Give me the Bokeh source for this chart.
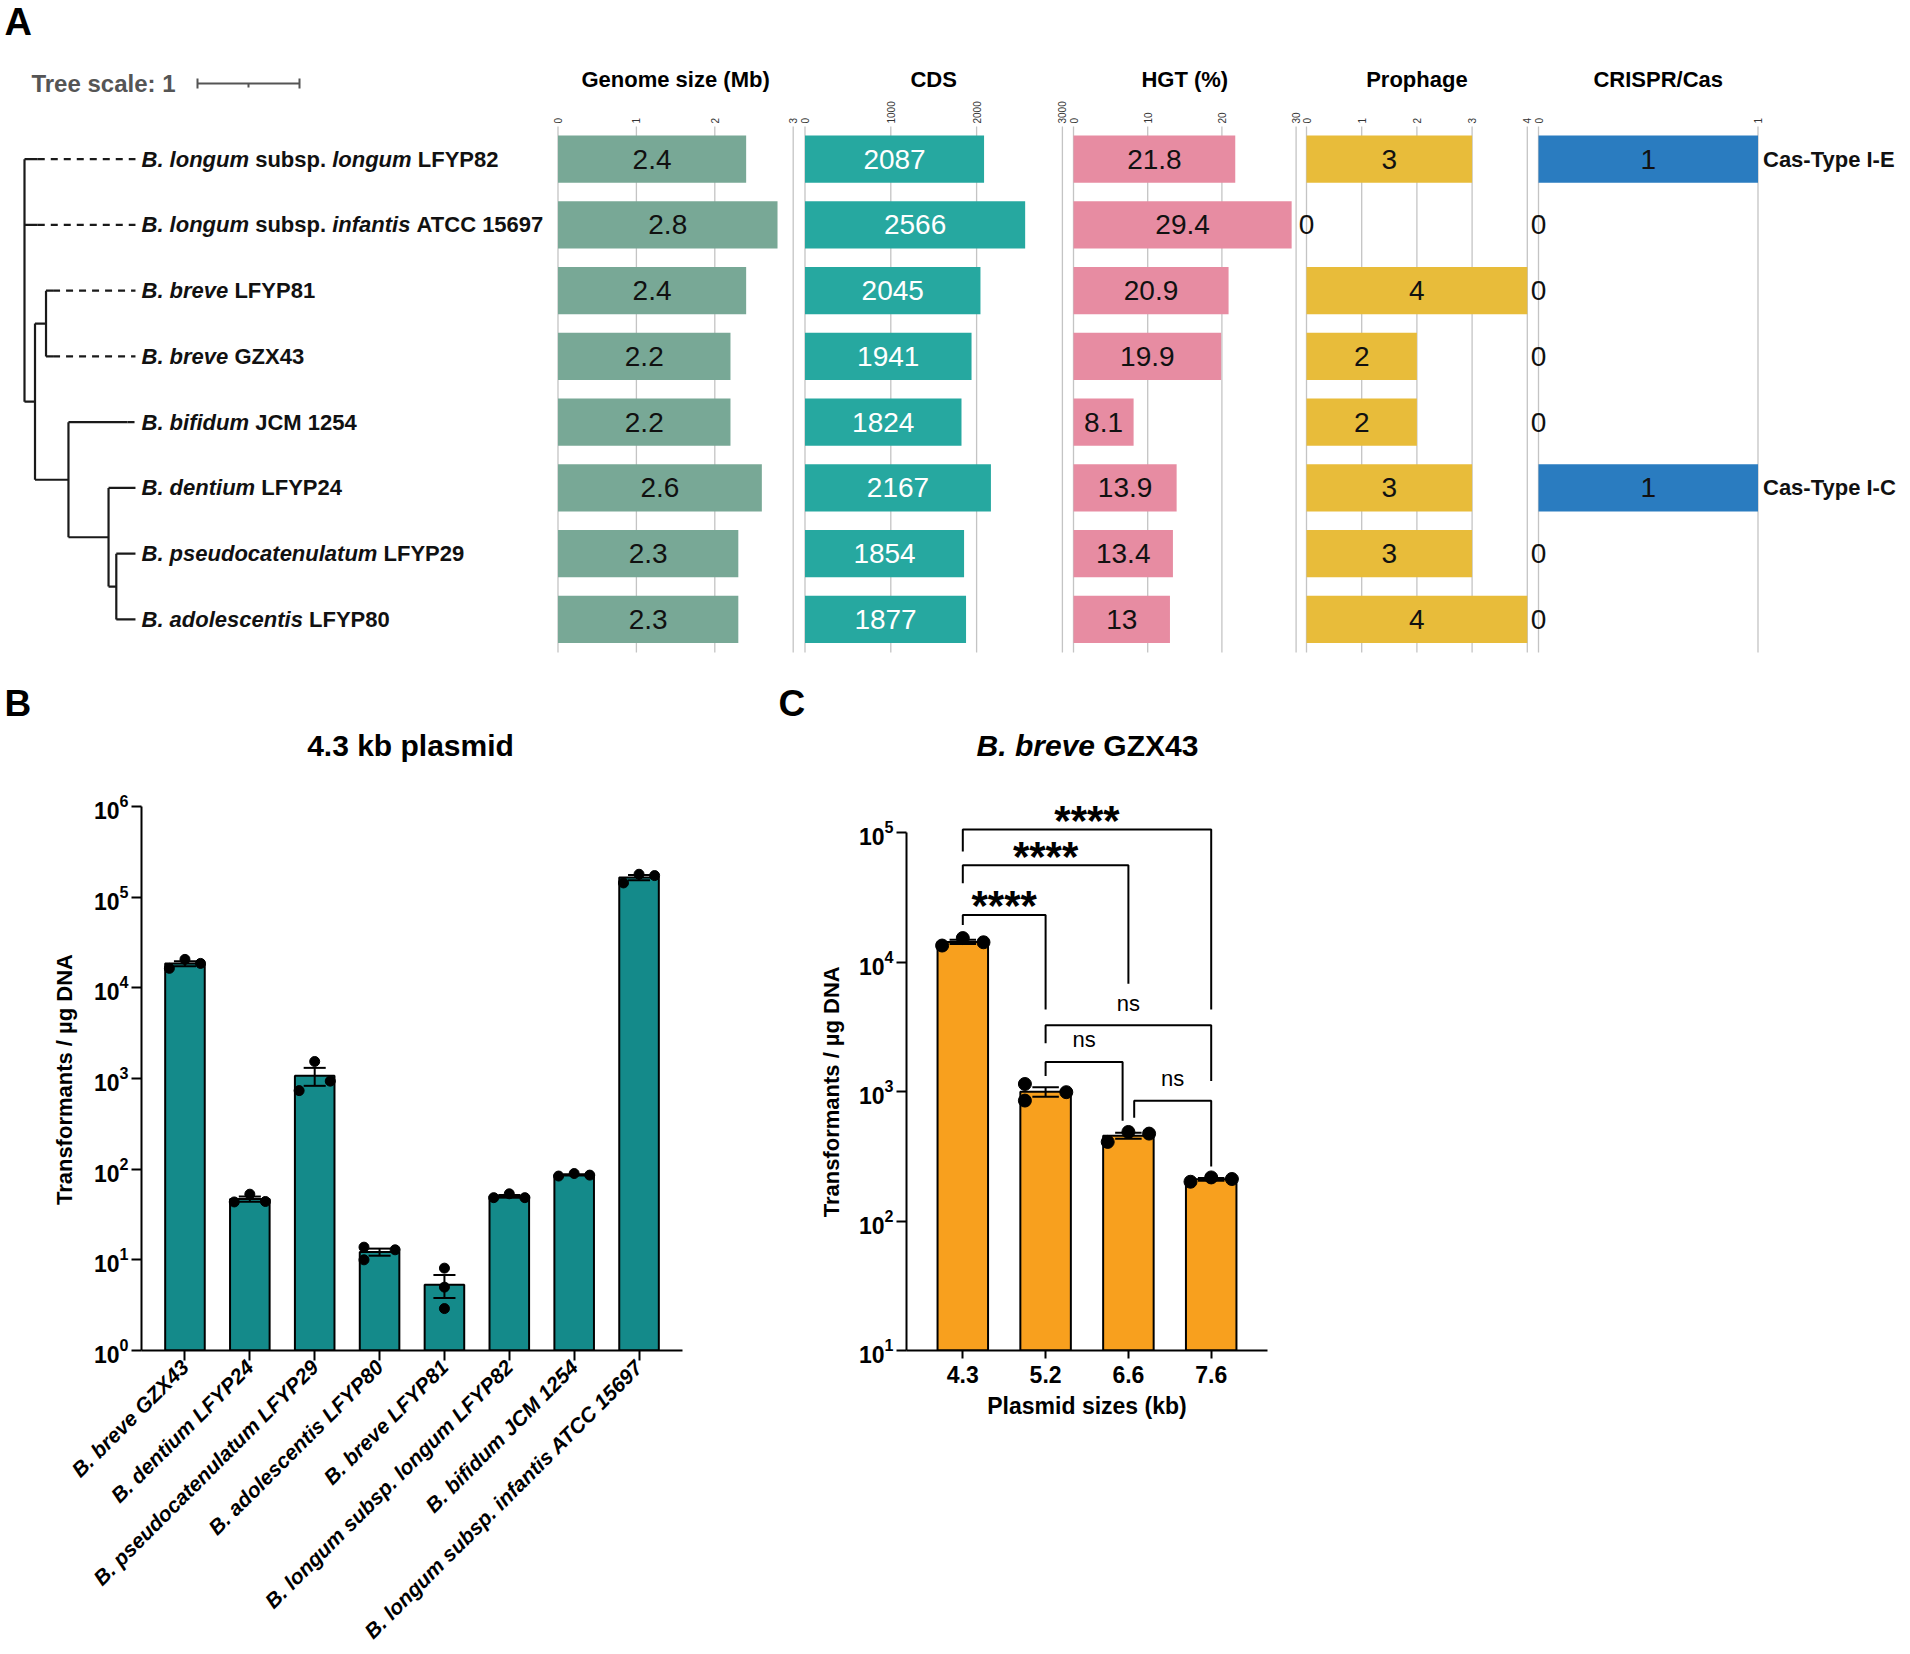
import math
from bokeh.plotting import figure
from bokeh.models import Range1d, FactorRange, FixedTicker, ColumnDataSource
from bokeh.layouts import row, column
from bokeh.embed import file_html
from bokeh.resources import INLINE
from bokeh.core.properties import value

FONT = "Liberation Sans"

# ============================ DATA ============================
# ---- Panel A : genome features ----
species = ["B. longum", "B. longum", "B. breve", "B. breve", "B. bifidum",
           "B. dentium", "B. pseudocatenulatum", "B. adolescentis"]
subspecies = ["longum", "infantis", "", "", "", "", "", ""]
strain_ids = ["LFYP82", "ATCC 15697", "LFYP81", "GZX43", "JCM 1254", "LFYP24", "LFYP29", "LFYP80"]

genome_size_mb = [2.4, 2.8, 2.4, 2.2, 2.2, 2.6, 2.3, 2.3]
cds_count = [2087, 2566, 2045, 1941, 1824, 2167, 1854, 1877]
hgt_percent = [21.8, 29.4, 20.9, 19.9, 8.1, 13.9, 13.4, 13.0]
prophage_count = [3, 0, 4, 2, 2, 3, 3, 4]
crispr_count = [1, 0, 0, 0, 0, 1, 0, 0]
cas_type = ["Cas-Type I-E", "", "", "", "", "Cas-Type I-C", "", ""]

genome_ticks = [0, 1, 2, 3]
cds_ticks = [0, 1000, 2000, 3000]
hgt_ticks = [0, 10, 20, 30]
prophage_ticks = [0, 1, 2, 3, 4]
crispr_ticks = [0, 1]

# phylogenetic tree: node, parent, depth of node (tree-scale units)
tree_nodes = ["root", "nB", "nC", "nD", "nE", "nF",
              "L0", "L1", "L2", "L3", "L4", "L5", "L6", "L7"]
tree_parents = [None, "root", "nB", "nB", "nD", "nE",
                "root", "root", "nC", "nC", "nD", "nE", "nF", "nF"]
tree_depth = [0.0, 0.103, 0.211, 0.431, 0.824, 0.900,
              0.13, 0.13, 0.28, 0.28, 1.01, 1.088, 1.088, 1.088]
tree_leaf_row = {"L0": 0, "L1": 1, "L2": 2, "L3": 3, "L4": 4, "L5": 5, "L6": 6, "L7": 7}
tree_scale_length = 1

# ---- Panel B : 4.3 kb plasmid ----
b_title = "4.3 kb plasmid"
b_strains = ["B. breve GZX43", "B. dentium LFYP24", "B. pseudocatenulatum LFYP29",
             "B. adolescentis LFYP80", "B. breve LFYP81", "B. longum subsp. longum LFYP82",
             "B. bifidum JCM 1254", "B. longum subsp. infantis ATCC 15697"]
b_mean = [18500, 46.8, 1070, 12.2, 5.3, 50.2, 86.5, 165000]
b_sem = [1200, 3.1, 240, 1.1, 1.5, 1.7, 1.6, 11000]
b_replicates = [[16400, 20600, 18600], [43.5, 53.0, 44.0], [735, 1540, 935],
                [13.8, 10.0, 12.9], [8.1, 5.0, 2.9], [48.5, 53.5, 48.5],
                [84.0, 89.5, 86.0], [143500, 179000, 173000]]
b_jitter = [[-0.24, 0, 0.24], [-0.24, 0, 0.24], [-0.24, 0, 0.24], [-0.24, -0.24, 0.24],
            [0, 0, 0], [-0.24, 0, 0.24], [-0.24, 0, 0.24], [-0.24, 0, 0.24]]

# ---- Panel C : B. breve GZX43 ----
c_title_species, c_title_strain = "B. breve", "GZX43"
c_plasmid_kb = ["4.3", "5.2", "6.6", "7.6"]
c_mean = [14300, 994, 456, 210]
c_sem = [551, 84, 24, 5]
c_replicates = [[13400, 15300, 14200], [1143, 851, 988], [408, 487, 473], [201, 217, 211]]
c_jitter = [[-0.25, 0, 0.25], [-0.25, -0.25, 0.25], [-0.25, 0, 0.25], [-0.25, 0, 0.25]]

c_comp_a = ["4.3", "4.3", "4.3", "5.2", "5.2", "6.6"]
c_comp_b = ["5.2", "6.6", "7.6", "7.6", "6.6", "7.6"]
c_comp_label = ["****", "****", "****", "ns", "ns", "ns"]
c_comp_top = [23100, 55800, 105400, 3250, 1690, 847]
c_comp_a_end = [19300, 40600, 71400, 2360, 1318, 627]
c_comp_b_end = [4300, 6800, 4300, 1205, 594, 264]
c_comp_a_shift = [0, 0, 0, 0, 0, 0.07]
c_comp_b_shift = [0, 0, 0, 0, -0.07, 0]

Y_LABEL = "Transformants / µg DNA"

# ============================ HELPERS ============================
_W = {" ": 278, "\u00a0": 278, ".": 278, "-": 333, "/": 278, "(": 333, ")": 333, "%": 889,
      ":": 333}
for _d in "0123456789":
    _W[_d] = 556
_W.update(dict(A=722, B=722, C=722, D=722, E=667, F=611, G=778, H=722, I=278, J=556, K=722,
               L=611, M=833, N=722, O=778, P=667, Q=778, R=722, S=667, T=611, U=722, V=667,
               W=944, X=667, Y=667, Z=611))
_W.update(dict(a=556, b=611, c=556, d=611, e=556, f=333, g=611, h=611, i=278, j=278, k=556,
               l=278, m=889, n=611, o=611, p=611, q=611, r=389, s=556, t=333, u=611, v=556,
               w=778, x=556, y=556, z=500))


def text_w(t, size):
    return sum(_W.get(ch, 556) for ch in t) * size / 1000.0


def txt(p, x, y, t, size, style="bold", color="black", align="left", baseline="middle",
        angle=0, x_offset=0, **kw):
    p.text(x=x, y=y, text=t, x_offset=x_offset, angle=angle, text_font=value(FONT),
           text_font_size=f"{size}px", text_font_style=style, text_color=color,
           text_align=align, text_baseline=baseline, **kw)


# ============================ PANEL A (one canvas, also holds B/C headings) ===========
PAGE_W, PAGE_H = 1910, 1654
A_H = 780
ROW0_PX, ROW_PX = 158.7, 65.75
TREE_ROOT_PX, TREE_UNIT_PX = 24.0, 102.0


def row_of(px):
    return (px - ROW0_PX) / ROW_PX


def tree_x(px):
    return (px - TREE_ROOT_PX) / TREE_UNIT_PX


pa = figure(width=PAGE_W, height=A_H,
            x_range=Range1d(tree_x(0), tree_x(PAGE_W)),
            y_range=Range1d(row_of(A_H), row_of(0)),
            x_axis_location=None, y_axis_location=None, min_border=0,
            toolbar_location=None, output_backend="svg")
pa.outline_line_color = None
pa.xgrid.visible = False
pa.ygrid.visible = False

# ---- tree ----
depth = dict(zip(tree_nodes, tree_depth))
parent = dict(zip(tree_nodes, tree_parents))
children = {n: [c for c in tree_nodes if parent[c] == n] for n in tree_nodes}


def node_y(n):
    if n in tree_leaf_row:
        return tree_leaf_row[n]
    ys = [node_y(c) for c in children[n]]
    return (min(ys) + max(ys)) / 2.0


ypos = {n: node_y(n) for n in tree_nodes}
align_depth = max(depth[n] for n in tree_leaf_row)
solid = dict(x0=[], y0=[], x1=[], y1=[])
dashed = dict(x0=[], y0=[], x1=[], y1=[])


def _add(d, a, b, c, e):
    d["x0"].append(a); d["y0"].append(b); d["x1"].append(c); d["y1"].append(e)


for n in tree_nodes:
    if children[n]:
        ys = [ypos[c] for c in children[n]]
        _add(solid, depth[n], min(ys), depth[n], max(ys))
    if parent[n] is not None:
        _add(solid, depth[parent[n]], ypos[n], depth[n], ypos[n])
    if n in tree_leaf_row and depth[n] < align_depth:
        _add(dashed, depth[n], ypos[n], align_depth, ypos[n])
pa.segment(x0="x0", y0="y0", x1="x1", y1="y1", source=ColumnDataSource(solid),
           line_color="#1a1a1a", line_width=2.2)
pa.segment(x0="x0", y0="y0", x1="x1", y1="y1", source=ColumnDataSource(dashed),
           line_color="#1a1a1a", line_width=2.2, line_dash="7 6")

# leaf labels (mixed italic / upright, bold)
LABEL_SIZE = 22
segs = {True: dict(x=[], y=[], t=[], o=[]), False: dict(x=[], y=[], t=[], o=[])}
for i in range(len(species)):
    parts = [(species[i], True)]
    if subspecies[i]:
        parts += [("subsp.", False), (subspecies[i], True)]
    parts.append((strain_ids[i], False))
    off = 0.0
    for t, ital in parts:
        d = segs[ital]
        d["x"].append(tree_x(141)); d["y"].append(i); d["t"].append(t); d["o"].append(off)
        off += text_w(t, LABEL_SIZE) + text_w(" ", LABEL_SIZE)
for ital, d in segs.items():
    pa.text(x="x", y="y", text="t", x_offset="o", source=ColumnDataSource(d),
            text_font=value(FONT), text_font_size=f"{LABEL_SIZE}px",
            text_font_style="bold italic" if ital else "bold",
            text_align="left", text_baseline="middle", text_color="#111111")

# panel letters, panel B/C headings, tree scale
txt(pa, [tree_x(4)], [row_of(21)], ["A"], 38)
txt(pa, [tree_x(4)], [row_of(703)], ["B"], 37)
txt(pa, [tree_x(778)], [row_of(703)], ["C"], 37)
txt(pa, [tree_x(410)], [row_of(745)], [b_title], 30, align="center")
HEAD = 30
c_total = text_w(c_title_species + " " + c_title_strain, HEAD)
c_x0 = tree_x(1087 - c_total / 2)
txt(pa, [c_x0], [row_of(745)], [c_title_species], HEAD, style="bold italic")
txt(pa, [c_x0], [row_of(745)], [c_title_strain], HEAD,
    x_offset=text_w(c_title_species + " ", HEAD))

sb_y = row_of(83)
sb_x0 = tree_x(197)
txt(pa, [tree_x(175)], [sb_y], [f"Tree scale: {tree_scale_length}"], 24, color="#555555",
    align="right")
tick_h = 5 / ROW_PX
pa.segment(x0=[sb_x0, sb_x0, sb_x0 + tree_scale_length, sb_x0 + tree_scale_length / 2],
           y0=[sb_y, sb_y - tick_h, sb_y - tick_h, sb_y],
           x1=[sb_x0 + tree_scale_length, sb_x0, sb_x0 + tree_scale_length,
               sb_x0 + tree_scale_length / 2],
           y1=[sb_y, sb_y + tick_h, sb_y + tick_h, sb_y + 4 / ROW_PX],
           line_color="#555555", line_width=2)

# ---- feature tracks (each on its own x scale) ----
GRID_TOP_PX, GRID_BOTTOM_PX = 126, 652
TICKLABEL_BASE_PX = 123
TITLE_PX = 79
pa.extra_x_ranges = {}


def add_track(name, title, vals, color, txt_color, ticks, zero_px, ppu, title_dx=0,
              side_text=None):
    pa.extra_x_ranges[name] = Range1d((0 - zero_px) / ppu, (PAGE_W - zero_px) / ppu)
    n = len(ticks)
    pa.segment(x0=ticks, y0=[row_of(GRID_TOP_PX)] * n, x1=ticks,
               y1=[row_of(GRID_BOTTOM_PX)] * n, line_color="#c4c4c4", line_width=1.3,
               x_range_name=name)
    txt(pa, ticks, [row_of(TICKLABEL_BASE_PX)] * n, [f"{t:g}" for t in ticks], 10,
        style="normal", color="#333333", align="left", baseline="middle",
        angle=math.pi / 2, x_range_name=name)
    rows = list(range(len(vals)))
    src = ColumnDataSource(dict(row=rows, val=vals, mid=[v / 2 for v in vals],
                                lab=[f"{v:g}" for v in vals]))
    pa.hbar(y="row", left=0, right="val", height=0.72, fill_color=color, line_color=None,
            source=src, x_range_name=name)
    pa.text(x="mid", y="row", text="lab", source=src, text_align="center",
            text_baseline="middle", text_font=value(FONT), text_font_size="28px",
            text_color=txt_color, x_range_name=name)
    txt(pa, [ticks[-1] / 2], [row_of(TITLE_PX)], [title], 22, align="center",
        x_offset=title_dx, x_range_name=name)
    if side_text is not None:
        sd = dict(x=[], y=[], t=[])
        for i, t in enumerate(side_text):
            if t:
                sd["x"].append(ticks[-1]); sd["y"].append(i); sd["t"].append(t)
        pa.text(x="x", y="y", text="t", x_offset=5, source=ColumnDataSource(sd),
                text_font=value(FONT), text_font_size="22px", text_font_style="bold",
                text_align="left", text_baseline="middle", text_color="#111111",
                x_range_name=name)


add_track("genome", "Genome size (Mb)", genome_size_mb, "#78A896", "#111111", genome_ticks,
          557.5, 78.4)
add_track("cds", "CDS", cds_count, "#26A8A0", "white", cds_ticks, 804.5, 0.0858)
add_track("hgt", "HGT (%)", hgt_percent, "#E78CA2", "#111111", hgt_ticks, 1073.0, 7.42)
add_track("prophage", "Prophage", prophage_count, "#E8BC3A", "#111111", prophage_ticks,
          1306.0, 55.2)
add_track("crispr", "CRISPR/Cas", crispr_count, "#2A7CC0", "#111111", crispr_ticks,
          1538.0, 219.5, title_dx=10, side_text=cas_type)


# ============================ PANELS B / C ============================
BC_H = PAGE_H - A_H
FRAME_TOP_PX = 802
AXIS_BOTTOM_PX = 1350
BC_TOP_BORDER = FRAME_TOP_PX - A_H
BC_BOTTOM_BORDER = PAGE_H - AXIS_BOTTOM_PX
FRAME_MID_PX = (FRAME_TOP_PX + AXIS_BOTTOM_PX) / 2


def padded_ylabel(center_px):
    # keep the axis title centred on the drawn axis rather than on the frame
    n = max(0, round(2 * (center_px - FRAME_MID_PX) / text_w("\u00a0", 22)))
    return Y_LABEL + "\u00a0" * n


def style_bar_axes(p, ylab, xfont_style, xorient, xsize, ticks_y, bounds):
    for ax in p.axis:
        ax.axis_line_width = 2
        ax.axis_line_color = "black"
        ax.major_tick_line_width = 2
        ax.major_tick_line_color = "black"
        ax.major_tick_in = 0
        ax.minor_tick_line_color = None
        ax.major_label_text_font = FONT
        ax.major_label_text_color = "black"
        ax.axis_label_text_font = FONT
        ax.axis_label_text_font_style = "bold"
        ax.axis_label_text_font_size = "22px"
        ax.axis_label_text_color = "black"
    yax = p.yaxis[0]
    yax.ticker = FixedTicker(ticks=ticks_y)
    yax.bounds = bounds
    yax.major_tick_out = 10
    yax.major_label_standoff = 3
    yax.major_label_text_font_size = "23px"
    yax.major_label_text_font_style = "bold"
    yax.axis_label = ylab
    xax = p.xaxis[0]
    xax.major_label_orientation = xorient
    xax.major_label_text_font_style = xfont_style
    xax.major_label_text_font_size = xsize
    p.xgrid.visible = False
    p.ygrid.visible = False
    p.outline_line_color = None


# ---- Panel B ----
B_W = 770
B_FRAME_L, B_FRAME_R = 141, 682
B_TOP_PX = 806                      # pixel of 10^6
B_DEC = (AXIS_BOTTOM_PX - B_TOP_PX) / 6.0
pb = figure(width=B_W, height=BC_H,
            x_range=FactorRange(factors=b_strains, range_padding=0.17,
                                range_padding_units="absolute"),
            y_range=Range1d(1, 10 ** (6 + (B_TOP_PX - FRAME_TOP_PX) / B_DEC)),
            y_axis_type="log",
            min_border_left=B_FRAME_L, min_border_right=B_W - B_FRAME_R,
            min_border_top=BC_TOP_BORDER, min_border_bottom=BC_BOTTOM_BORDER,
            toolbar_location=None, output_backend="svg")
style_bar_axes(pb, padded_ylabel((B_TOP_PX + AXIS_BOTTOM_PX) / 2), "bold italic",
               math.pi / 4, "21px", [1, 10, 100, 1000, 1e4, 1e5, 1e6], (1, 1e6))
pb.xaxis[0].major_tick_out = 10
pb.xaxis[0].major_label_standoff = 3
pb.yaxis[0].axis_label_standoff = 14

pb.vbar(x=b_strains, top=b_mean, bottom=1, width=0.61, fill_color="#148A8A",
        line_color="black", line_width=2)
bx = [i + 0.5 for i in range(len(b_strains))]
hi = [m + s for m, s in zip(b_mean, b_sem)]
lo = [m - s for m, s in zip(b_mean, b_sem)]
pb.segment(x0=bx, y0=lo, x1=bx, y1=hi, line_color="black", line_width=2)
pb.segment(x0=[x - 0.17 for x in bx] * 2, y0=hi + lo, x1=[x + 0.17 for x in bx] * 2,
           y1=hi + lo, line_color="black", line_width=2)
px, py = [], []
for i, (reps, jit) in enumerate(zip(b_replicates, b_jitter)):
    for r, j in zip(reps, jit):
        px.append(i + 0.5 + j); py.append(r)
pb.scatter(x=px, y=py, size=10, fill_color="black", line_color="black")

# ---- Panel C ----
C_W = 530
C_FRAME_L, C_FRAME_R = 906, 1267
C_TOP_PX = 832                      # pixel of 10^5
C_DEC = (AXIS_BOTTOM_PX - C_TOP_PX) / 4.0
pc = figure(width=C_W, height=BC_H,
            x_range=FactorRange(factors=c_plasmid_kb, range_padding=0.18,
                                range_padding_units="absolute"),
            y_range=Range1d(10, 10 ** (5 + (C_TOP_PX - FRAME_TOP_PX) / C_DEC)),
            y_axis_type="log",
            min_border_left=C_FRAME_L - B_W, min_border_right=B_W + C_W - C_FRAME_R,
            min_border_top=BC_TOP_BORDER, min_border_bottom=BC_BOTTOM_BORDER,
            toolbar_location=None, output_backend="svg")
style_bar_axes(pc, padded_ylabel((C_TOP_PX + AXIS_BOTTOM_PX) / 2), "bold", "horizontal",
               "23px", [10, 100, 1000, 1e4, 1e5], (10, 1e5))
pc.yaxis[0].axis_label_standoff = 12
pc.xaxis[0].major_tick_out = 8
pc.xaxis[0].major_label_standoff = 7
pc.xaxis[0].axis_label = "Plasmid sizes (kb)"
pc.xaxis[0].axis_label_text_font_size = "23px"
pc.xaxis[0].axis_label_standoff = 7

pc.vbar(x=c_plasmid_kb, top=c_mean, bottom=10, width=0.61, fill_color="#F8A01E",
        line_color="black", line_width=2)
cx = [i + 0.5 for i in range(len(c_plasmid_kb))]
chi = [m + s for m, s in zip(c_mean, c_sem)]
clo = [m - s for m, s in zip(c_mean, c_sem)]
pc.segment(x0=cx, y0=clo, x1=cx, y1=chi, line_color="black", line_width=2)
pc.segment(x0=[x - 0.16 for x in cx] * 2, y0=chi + clo, x1=[x + 0.16 for x in cx] * 2,
           y1=chi + clo, line_color="black", line_width=2)
qx, qy = [], []
for i, (reps, jit) in enumerate(zip(c_replicates, c_jitter)):
    for r, j in zip(reps, jit):
        qx.append(i + 0.5 + j); qy.append(r)
pc.scatter(x=qx, y=qy, size=13, fill_color="black", line_color="black")

# significance brackets
idx = {k: i for i, k in enumerate(c_plasmid_kb)}
bxs, bys = [], []
star = dict(x=[], y=[], t=[])
ns = dict(x=[], y=[], t=[])
for a, b, lab, top, ea, eb, sa, sb in zip(c_comp_a, c_comp_b, c_comp_label, c_comp_top,
                                          c_comp_a_end, c_comp_b_end, c_comp_a_shift,
                                          c_comp_b_shift):
    xa = idx[a] + 0.5 + sa
    xb = idx[b] + 0.5 + sb
    bxs.append([xa, xa, xb, xb])
    bys.append([ea, top, top, eb])
    if lab.startswith("*"):
        star["x"].append((xa + xb) / 2)
        star["y"].append(top * 10 ** (9 / C_DEC))
        star["t"].append(lab)
    else:
        ns["x"].append((xa + xb) / 2)
        ns["y"].append(top * 10 ** (22 / C_DEC))
        ns["t"].append(lab)
pc.multi_line(xs=bxs, ys=bys, line_color="black", line_width=2)
pc.text(x="x", y="y", text="t", source=ColumnDataSource(star), text_font=value(FONT),
        text_font_size="42px", text_font_style="bold", text_align="center",
        text_baseline="middle", text_color="black")
pc.text(x="x", y="y", text="t", source=ColumnDataSource(ns), text_font=value(FONT),
        text_font_size="22px", text_font_style="normal", text_align="center",
        text_baseline="middle", text_color="black")

layout = column(pa, row(pb, pc, spacing=0), spacing=0)
open("out.html", "w").write(file_html(layout, INLINE, title="Figure"))
